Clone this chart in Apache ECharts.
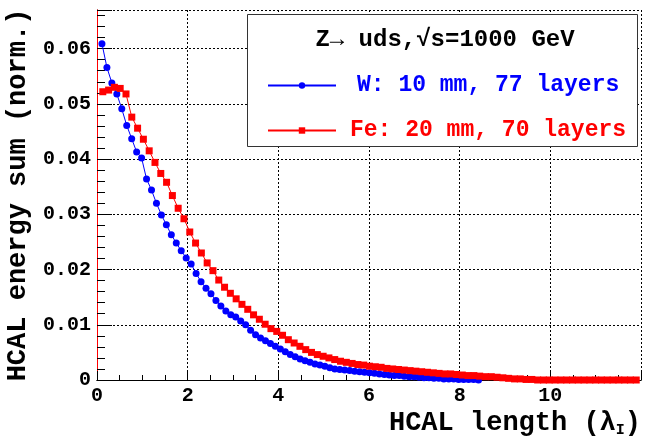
<!DOCTYPE html>
<html>
<head>
<meta charset="utf-8">
<script src="https://cdn.jsdelivr.net/npm/echarts@6/dist/echarts.min.js"></script>
<style>
  html, body { margin: 0; padding: 0; background: #fff; }
  #chart { width: 645px; height: 436px; }
</style>
</head>
<body>
<div id="chart"></div>
<script>
// layer thickness in interaction lengths
const wLayerLambda = 0.1093
const feLayerLambda = 0.1279

// normalised HCAL energy per layer, W: 10 mm (77 layers)
const wValues = [
  0.0609, 0.0566, 0.0538, 0.0518, 0.0491, 0.0461, 0.0437, 0.0413, 0.0402, 0.0364,
  0.0344, 0.0320, 0.0299, 0.0281, 0.0263, 0.0248, 0.0234, 0.0221, 0.0210, 0.0193,
  0.0178, 0.0166, 0.0156, 0.0144, 0.0134, 0.0125, 0.0118, 0.0114, 0.0107, 0.0100,
  0.0090, 0.0082, 0.0076, 0.0071, 0.0066, 0.0061, 0.0056, 0.0051, 0.0046, 0.0042,
  0.0038, 0.0035, 0.0032, 0.0029, 0.0027, 0.0025, 0.0022, 0.0020, 0.0019, 0.0018,
  0.0017, 0.0016, 0.0015, 0.0014, 0.0013, 0.0012, 0.0011, 0.0010, 0.0009, 0.0008,
  0.0008, 0.0007, 0.0006, 0.0006, 0.0005, 0.0004, 0.0004, 0.0003, 0.0003, 0.0002,
  0.0002, 0.0002, 0.0001, 0.0001, 0.0001, 0.0001, 0.0000
]

// Fe: 20 mm (70 layers), followed by the empty points drawn out to the frame edge
const feValues = [
  0.0522, 0.0525, 0.0530, 0.0528, 0.0518, 0.0476, 0.0456, 0.0436, 0.0415, 0.0394,
  0.0374, 0.0358, 0.0334, 0.0311, 0.0292, 0.0268, 0.0248, 0.0230, 0.0212, 0.0198,
  0.0181, 0.0168, 0.0157, 0.0147, 0.0137, 0.0128, 0.0118, 0.0110, 0.0101, 0.0093,
  0.0088, 0.0081, 0.0073, 0.0067, 0.0061, 0.0055, 0.0050, 0.0046, 0.0043, 0.0040,
  0.0037, 0.0034, 0.0032, 0.0030, 0.0028, 0.0027, 0.0025, 0.0024, 0.0023, 0.0021,
  0.0020, 0.0019, 0.0018, 0.0017, 0.0016, 0.0015, 0.0014, 0.0013, 0.0012, 0.0011,
  0.0011, 0.0010, 0.0009, 0.0008, 0.0008, 0.0007, 0.0006, 0.0006, 0.0005, 0.0004,
  0.0003, 0.0002, 0.0002, 0.0001, 0.0001, 0, 0, 0, 0, 0,
  0, 0, 0, 0, 0, 0, 0, 0, 0, 0,
  0, 0, 0
]

const yTicks = [0, 0.01, 0.02, 0.03, 0.04, 0.05, 0.06]
const seriesNames = ['W: 10 mm, 77 layers', 'Fe: 20 mm, 70 layers']
const headerText = 'Z\u2192 uds,\u221As=1000 GeV'

const font = '"Liberation Mono", "DejaVu Sans Mono", monospace'

const toPoints = (values, step) => values.map((v, i) => [(i + 1) * step, v])

const chart = echarts.init(document.getElementById('chart'))

const gridLine = { show: true, lineStyle: { color: '#000', type: [2, 2], width: 1 } }

chart.setOption({
  animation: false,
  backgroundColor: '#fff',
  grid: { left: 97, right: 4, top: 10, bottom: 56, outerBoundsMode: 'none', containLabel: false },
  legend: {
    orient: 'vertical',
    left: 262,
    top: 68,
    itemWidth: 68,
    itemHeight: 8,
    itemGap: 20,
    z: 6,
    textStyle: { fontFamily: font, fontWeight: 'bold', fontSize: 23, lineHeight: 25 },
    data: [
      { name: seriesNames[0], textStyle: { color: '#0000ff', padding: [0, 0, 0, 16] } },
      { name: seriesNames[1], textStyle: { color: '#ff0000', padding: [0, 0, 0, 9] } },
    ],
  },
  graphic: [
    {
      type: 'rect',
      z: 5,
      shape: { x: 247.5, y: 14.5, width: 390, height: 132 },
      style: { fill: '#fff', stroke: '#333', lineWidth: 1 },
    },
    {
      type: 'text',
      z: 6,
      x: 445,
      y: 40,
      style: {
        text: headerText,
        fontFamily: font,
        fontWeight: 'bold',
        fontSize: 24,
        fill: '#000',
        align: 'center',
        verticalAlign: 'middle',
      },
    },
  ],
  xAxis: [{
    type: 'value',
    min: 0,
    max: 12,
    interval: 2,
    name: 'HCAL length (λ{sub|I})',
    nameLocation: 'end',
    nameGap: 0,
    nameTextStyle: {
      fontFamily: font,
      fontWeight: 'bold',
      fontSize: 27,
      color: '#000',
      align: 'right',
      verticalAlign: 'top',
      padding: [29, 0, 0, 0],
      rich: { sub: { fontFamily: font, fontWeight: 'bold', fontSize: 15, color: '#000', padding: [14, 0, 0, 0] } },
    },
    axisLine: { lineStyle: { color: '#000', width: 1 } },
    axisTick: { inside: true, length: 9, lineStyle: { color: '#000' } },
    minorTick: { show: true, splitNumber: 4, length: 5, lineStyle: { color: '#000' } },
    axisLabel: {
      fontFamily: font,
      fontWeight: 'bold',
      fontSize: 20,
      color: '#000',
      margin: 6,
      showMaxLabel: false,
    },
    splitLine: gridLine,
  }, {
    type: 'value',
    position: 'top',
    min: 0,
    max: 12,
    interval: 2,
    axisLine: { show: true, lineStyle: { color: '#000', width: 1 } },
    axisTick: { show: false },
    axisLabel: { show: false },
    splitLine: { show: false },
  }],
  yAxis: [{
    type: 'value',
    min: 0,
    max: 0.067,
    interval: 0.01,
    name: 'HCAL energy sum (norm.)',
    nameLocation: 'middle',
    nameGap: 62,
    nameTextStyle: { fontFamily: font, fontWeight: 'bold', fontSize: 27, color: '#000' },
    axisLine: { show: true, lineStyle: { color: '#000', width: 1 } },
    axisTick: { inside: true, length: 15, lineStyle: { color: '#000' } },
    minorTick: { show: true, splitNumber: 5, length: 8, lineStyle: { color: '#000' } },
    axisLabel: {
      fontFamily: font,
      fontWeight: 'bold',
      fontSize: 20,
      color: '#000',
      margin: 6,
      formatter: (v) => {
        const t = yTicks.find((k) => Math.abs(k - v) < 1e-6)
        return t === undefined ? '' : String(t)
      },
    },
    splitLine: gridLine,
  }, {
    type: 'value',
    position: 'right',
    min: 0,
    max: 0.067,
    axisLine: { show: true, lineStyle: { color: '#ff0000', width: 1 } },
    axisTick: { show: false },
    axisLabel: { show: false },
    splitLine: { show: false },
  }],
  series: [
    {
      name: seriesNames[0],
      type: 'line',
      data: toPoints(wValues, wLayerLambda),
      symbol: 'circle',
      symbolSize: 7,
      z: 3,
      itemStyle: { color: '#0000ff' },
      lineStyle: { color: '#0000ff', width: 1 },
    },
    {
      name: seriesNames[1],
      type: 'line',
      data: toPoints(feValues, feLayerLambda),
      symbol: 'rect',
      symbolSize: 7,
      z: 4,
      itemStyle: { color: '#ff0000' },
      lineStyle: { color: '#ff0000', width: 1 },
    },
  ],
})
</script>
</body>
</html>
